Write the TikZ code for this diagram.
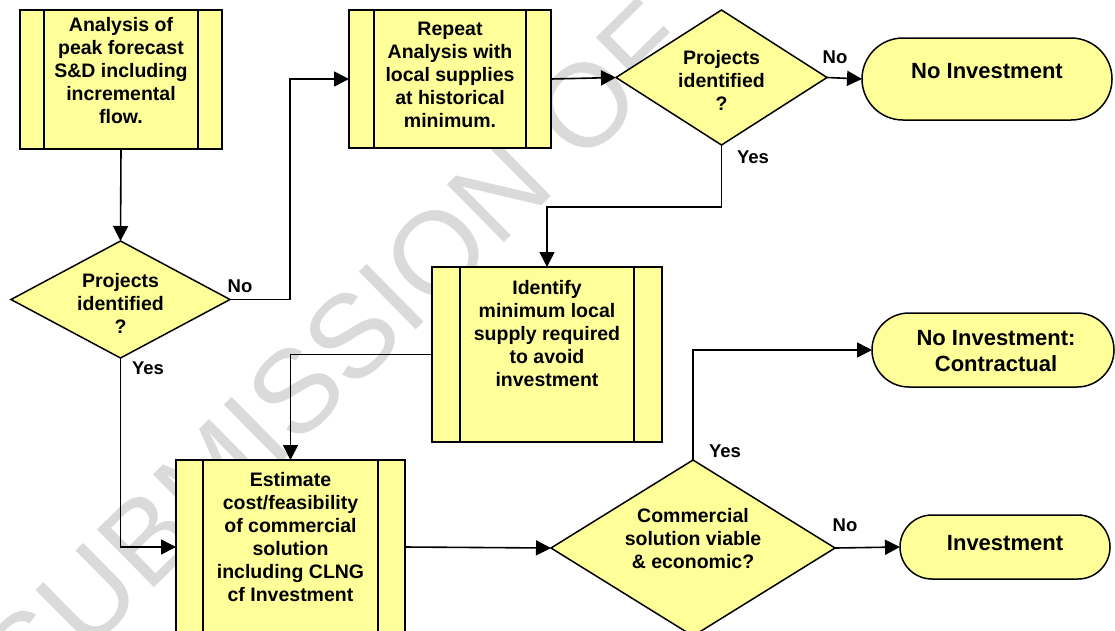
\documentclass[tikz,border=0pt]{standalone}
\usepackage{fontspec}
\setmainfont{Liberation Sans}
\usetikzlibrary{shapes.geometric,shapes.misc,arrows.meta}
\definecolor{yel}{HTML}{FFFF99}
\definecolor{wmgray}{HTML}{DADADA}
\begin{document}
\begin{tikzpicture}[x=1pt,y=-1pt,
  every node/.style={inner sep=0pt, outer sep=0pt},
  proc/.style={draw=black, fill=yel, line width=1.8pt, rectangle,
    path picture={
      \draw[line width=1.8pt] ([xshift=#1]path picture bounding box.north west) -- ([xshift=#1]path picture bounding box.south west);
      \draw[line width=1.8pt] ([xshift=-#1]path picture bounding box.north east) -- ([xshift=-#1]path picture bounding box.south east);
    }},
  dec/.style={draw=black, fill=yel, line width=1.5pt, diamond},
  term/.style={draw=black, fill=yel, line width=1.5pt, rounded rectangle},
  btxt/.style={font=\bfseries\fontsize{19.5}{23}\selectfont, align=center, anchor=north},
  ttxt/.style={font=\bfseries\fontsize{22}{26}\selectfont, align=center, anchor=north},
  lbl/.style={font=\bfseries\fontsize{18.5}{20}\selectfont, anchor=base},
  conn/.style={line width=1.6pt, -{Triangle[length=15pt,width=15pt]}},
  plainline/.style={line width=1.6pt}
]
\clip (0,0) rectangle (1115,630);
\fill[white] (0,0) rectangle (1115,630);

% watermark
\node[font=\fontsize{118}{118}\selectfont, text=wmgray, rotate=44.6] (wm) at (336,352) {SUBMISSION OF};

% process boxes
\node[proc=24pt, minimum width=202pt, minimum height=139pt] (b1) at (121,79.5) {};
\node[proc=25pt, minimum width=202pt, minimum height=138pt] (b2) at (450,79) {};
\node[proc=28pt, minimum width=230pt, minimum height=175pt] (b3) at (547,354.5) {};
\node[proc=27pt, minimum width=229pt, minimum height=174pt] (b4) at (290.5,547) {};

% decisions
\node[dec, minimum width=211pt, minimum height=135pt] (d1) at (721.5,77.5) {};
\node[dec, minimum width=219pt, minimum height=117pt] (d2) at (120.5,299.5) {};
\node[dec, minimum width=284pt, minimum height=176pt] (d3) at (693,548) {};

% terminals
\node[term, minimum width=250pt, minimum height=82pt] (t1) at (987,79) {};
\node[term, minimum width=242pt, minimum height=74pt] (t2) at (993,350) {};
\node[term, minimum width=210pt, minimum height=64pt] (t3) at (1005,547) {};

% texts
\node[btxt] (b1t) at (121,17) {Analysis of\\peak forecast\\S\&D including\\incremental\\flow.};
\node[btxt] (b2t) at (450,22) {Repeat\\Analysis with\\local supplies\\at historical\\minimum.};
\node[btxt] (b3t) at (547,280) {Identify\\minimum local\\supply required\\to avoid\\investment};
\node[btxt] (b4t) at (290.5,472) {Estimate\\cost/feasibility\\of commercial\\solution\\including CLNG\\cf Investment};
\node[btxt] (d1t) at (721.5,50) {Projects\\identified\\?};
\node[btxt] (d2t) at (120.5,273) {Projects\\identified\\?};
\node[btxt] (d3t) at (693,508) {Commercial\\solution viable\\\& economic?};
\node[ttxt] (t1t) at (987,63) {No Investment};
\node[ttxt] (t2t) at (996,330) {No Investment:\\Contractual};
\node[ttxt] (t3t) at (1005,535) {Investment};

% labels
\node[lbl] (l1) at (835,63.5) {No};
\node[lbl] (l2) at (753,163) {Yes};
\node[lbl] (l3) at (240,292) {No};
\node[lbl] (l4) at (148,374) {Yes};
\node[lbl] (l5) at (725,457) {Yes};
\node[lbl] (l6) at (845,531) {No};

% connectors
\draw[conn] (b1.south) -- (d2.north);
\draw[conn] (d2.east) -- ++(60,0) |- (b2.west);
\draw[conn] (b2.east) -- (d1.west);
\draw[conn] (d1.east) -- (t1.west);
\draw[conn] (d1.south) -- ++(0,62) -| (b3.north);
\draw[conn] (b3.west) -| (b4.north);
\draw[conn] (d2.south) |- (b4.west);
\draw[conn] (b4.east) -- (d3.west);
\draw[conn] (d3.north) |- (t2.west);
\draw[conn] (d3.east) -- (t3.west);
\end{tikzpicture}
\end{document}
